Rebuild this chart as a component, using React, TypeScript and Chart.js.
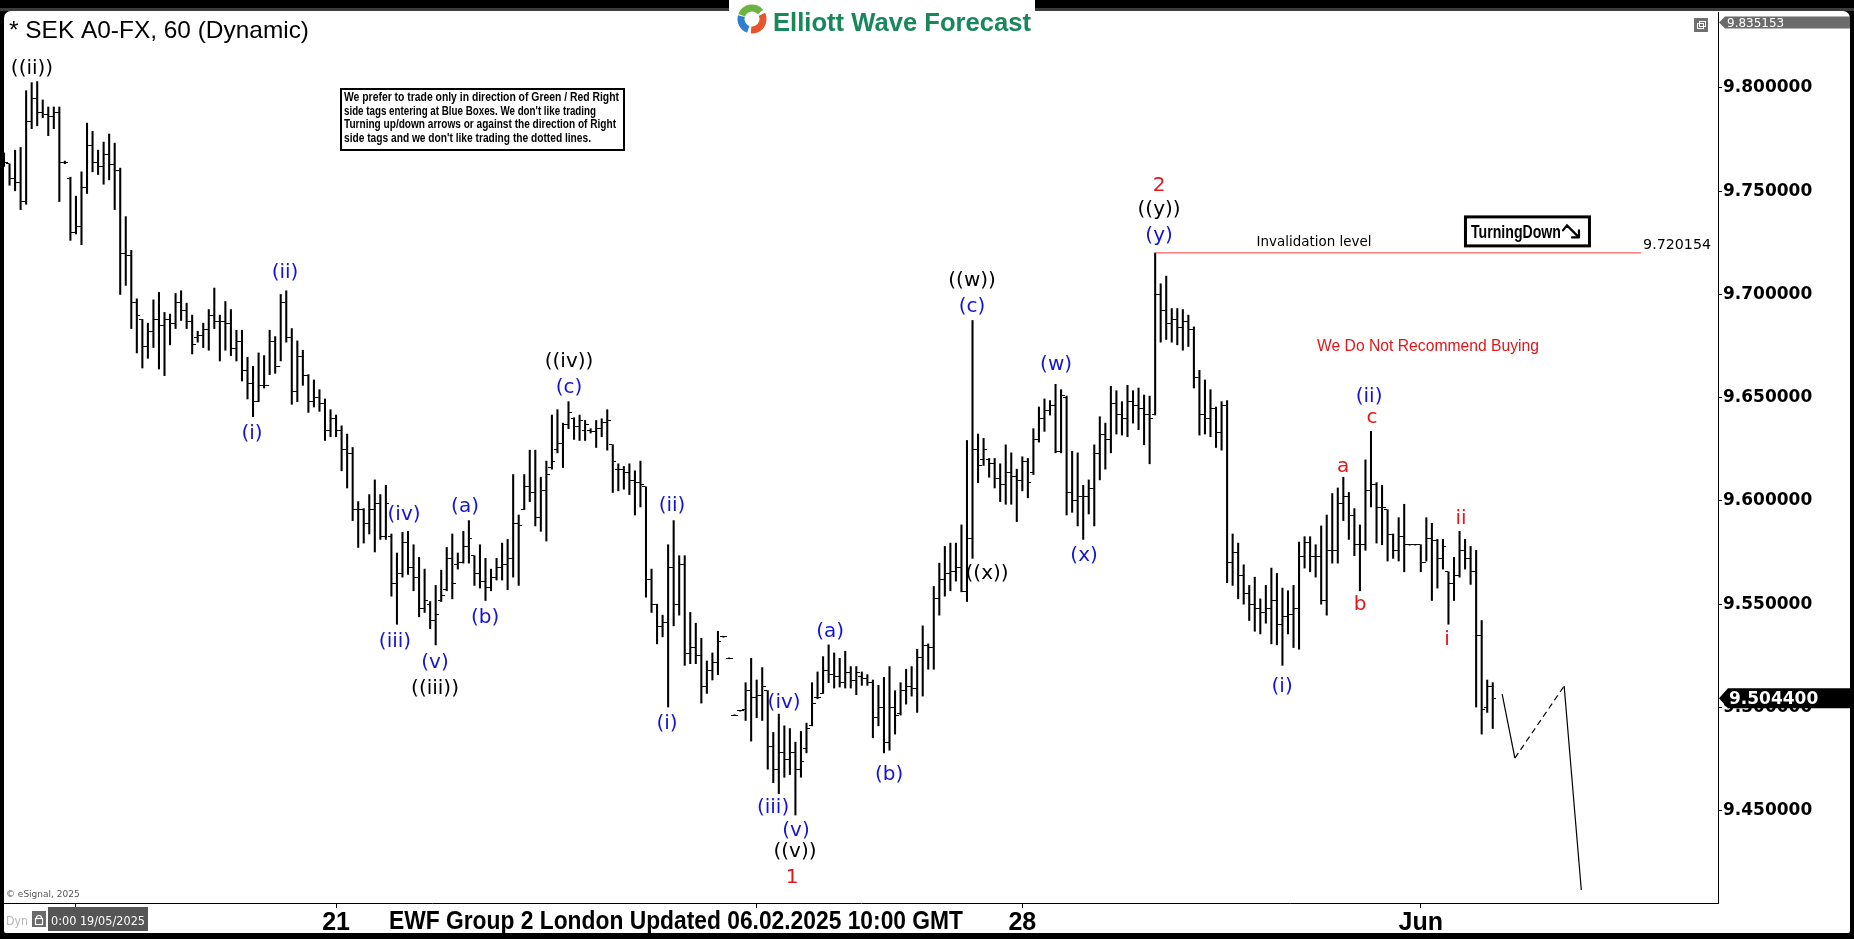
import React, { useEffect, useRef } from 'react';
import { Chart, registerables } from 'chart.js';

Chart.register(...registerables);

const W = 1854;
const H = 939;

// ---- hourly OHLC bars (index = hour bar) ----
const HIGH = [
  9.7686, 9.7633, 9.7699, 9.7712, 9.7987, 9.8026, 9.8031, 9.7942, 9.7908, 9.7908,
  9.7908, 9.7646, 9.7568, 9.7476, 9.7594, 9.7830, 9.7790, 9.7699, 9.7738, 9.7777,
  9.7733, 9.7612, 9.7377, 9.7214, 9.6979, 9.6879, 9.6861, 9.6974, 9.7010, 9.6913,
  9.6905, 9.7005, 9.7018, 9.6958, 9.6900, 9.6822, 9.6861, 9.6927, 9.7031, 9.6900,
  9.6966, 9.6927, 9.6827, 9.6827, 9.6696, 9.6652, 9.6717, 9.6704, 9.6827, 9.6796,
  9.7000, 9.7018, 9.6835, 9.6775, 9.6730, 9.6612, 9.6586, 9.6539, 9.6494, 9.6442,
  9.6416, 9.6364, 9.6324, 9.6259, 9.5997, 9.5963, 9.6031, 9.6102, 9.6031, 9.6076,
  9.5840, 9.5748, 9.5848, 9.5853, 9.5788, 9.5727, 9.5670, 9.5513, 9.5591, 9.5665,
  9.5775, 9.5840, 9.5748, 9.5853, 9.5905, 9.5735, 9.5788, 9.5722, 9.5670, 9.5722,
  9.5796, 9.5814, 9.6128, 9.5932, 9.6128, 9.6246, 9.6246, 9.6115, 9.6193, 9.6416,
  9.6442, 9.6377, 9.6481, 9.6403, 9.6416, 9.6390, 9.6350, 9.6390, 9.6398, 9.6442,
  9.6272, 9.6180, 9.6167, 9.6180, 9.6146, 9.6193, 9.6068, 9.5670, 9.5500, 9.5447,
  9.5788, 9.5905, 9.5735, 9.5735, 9.5460, 9.5408, 9.5335, 9.5225, 9.5264, 9.5369,
  9.5345, 9.5240, 9.4965, 9.4986, 9.5120, 9.5238, 9.5133, 9.5193, 9.5081, 9.4879,
  9.4968, 9.4911, 9.4898, 9.4832, 9.4884, 9.4924, 9.5120, 9.5172, 9.5246, 9.5303,
  9.5264, 9.5238, 9.5272, 9.5198, 9.5198, 9.5172, 9.5159, 9.5133, 9.5107, 9.5146,
  9.5198, 9.5081, 9.5120, 9.5185, 9.5198, 9.5282, 9.5395, 9.5308, 9.5586, 9.5699,
  9.5780, 9.5796, 9.5796, 9.5884, 9.6293, 9.6874, 9.6324, 9.6303, 9.6206, 9.6206,
  9.6180, 9.6272, 9.6233, 9.6154, 9.6214, 9.6206, 9.6350, 9.6455, 9.6494, 9.6486,
  9.6565, 9.6539, 9.6508, 9.6240, 9.6233, 9.6076, 9.6102, 9.6272, 9.6408, 9.6377,
  9.6555, 9.6534, 9.6481, 9.6560, 9.6534, 9.6547, 9.6513, 9.6508, 9.7201, 9.7052,
  9.7089, 9.6932, 9.6932, 9.6927, 9.6900, 9.6843, 9.6633, 9.6586, 9.6539, 9.6455,
  9.6481, 9.6486, 9.5840, 9.5796, 9.5691, 9.5591, 9.5631, 9.5526, 9.5591, 9.5675,
  9.5649, 9.5578, 9.5565, 9.5591, 9.5801, 9.5827, 9.5827, 9.5788, 9.5879, 9.5932,
  9.6036, 9.6063, 9.6115, 9.6041, 9.5963, 9.5884, 9.6199, 9.6337, 9.6089, 9.6076,
  9.5958, 9.5840, 9.5919, 9.5984, 9.5790, 9.5790, 9.5788, 9.5919, 9.5892, 9.5814,
  9.5814, 9.5657, 9.5727, 9.5853, 9.5814, 9.5780, 9.5761, 9.5421, 9.5133, 9.5120,
];

const LOW = [
  9.7620, 9.7529, 9.7502, 9.7411, 9.7437, 9.7803, 9.7817, 9.7856, 9.7769, 9.7803,
  9.7450, 9.7633, 9.7262, 9.7293, 9.7241, 9.7489, 9.7594, 9.7581, 9.7534, 9.7555,
  9.7411, 9.7000, 9.7044, 9.6835, 9.6717, 9.6644, 9.6691, 9.6743, 9.6639, 9.6607,
  9.6756, 9.6835, 9.6874, 9.6835, 9.6712, 9.6769, 9.6743, 9.6730, 9.6835, 9.6678,
  9.6730, 9.6704, 9.6678, 9.6581, 9.6494, 9.6408, 9.6481, 9.6547, 9.6612, 9.6618,
  9.6678, 9.6769, 9.6468, 9.6481, 9.6560, 9.6429, 9.6455, 9.6434, 9.6293, 9.6311,
  9.6311, 9.6146, 9.6063, 9.5905, 9.5775, 9.5796, 9.5840, 9.5753, 9.5814, 9.5814,
  9.5539, 9.5403, 9.5631, 9.5644, 9.5565, 9.5439, 9.5460, 9.5382, 9.5303, 9.5513,
  9.5565, 9.5526, 9.5670, 9.5699, 9.5699, 9.5591, 9.5578, 9.5518, 9.5565, 9.5617,
  9.5617, 9.5570, 9.5631, 9.5591, 9.5958, 9.5997, 9.5879, 9.5853, 9.5806, 9.6154,
  9.6233, 9.6162, 9.6350, 9.6298, 9.6293, 9.6293, 9.6329, 9.6259, 9.6311, 9.6246,
  9.6041, 9.6049, 9.6057, 9.6031, 9.5932, 9.5971, 9.5534, 9.5460, 9.5308, 9.5342,
  9.5002, 9.5395, 9.5447, 9.5204, 9.5212, 9.5212, 9.5021, 9.5068, 9.5133, 9.5159,
  9.5340, 9.5236, 9.4961, 9.4982, 9.4937, 9.4837, 9.4950, 9.4937, 9.4701, 9.4636,
  9.4583, 9.4662, 9.4675, 9.4479, 9.4662, 9.4780, 9.4911, 9.5042, 9.5068, 9.5120,
  9.5094, 9.5099, 9.5094, 9.5094, 9.5062, 9.5107, 9.5107, 9.4853, 9.4911, 9.4780,
  9.4793, 9.4871, 9.4963, 9.5016, 9.5055, 9.4976, 9.5055, 9.5185, 9.5185, 9.5447,
  9.5539, 9.5565, 9.5612, 9.5560, 9.5513, 9.5722, 9.6089, 9.6172, 9.6115, 9.6063,
  9.5997, 9.5984, 9.5984, 9.5900, 9.6049, 9.6015, 9.6128, 9.6285, 9.6337, 9.6416,
  9.6233, 9.6233, 9.5932, 9.5945, 9.5879, 9.5814, 9.5937, 9.5879, 9.6102, 9.6154,
  9.6233, 9.6324, 9.6319, 9.6311, 9.6377, 9.6345, 9.6272, 9.6180, 9.6416, 9.6769,
  9.6782, 9.6769, 9.6756, 9.6730, 9.6748, 9.6547, 9.6319, 9.6324, 9.6311, 9.6259,
  9.6246, 9.5604, 9.5591, 9.5526, 9.5500, 9.5421, 9.5369, 9.5356, 9.5408, 9.5308,
  9.5303, 9.5204, 9.5356, 9.5290, 9.5282, 9.5675, 9.5657, 9.5631, 9.5500, 9.5447,
  9.5699, 9.5699, 9.5905, 9.5814, 9.5735, 9.5565, 9.5761, 9.5971, 9.5796, 9.5788,
  9.5709, 9.5722, 9.5709, 9.5657, 9.5786, 9.5786, 9.5657, 9.5709, 9.5518, 9.5578,
  9.5670, 9.5403, 9.5518, 9.5631, 9.5670, 9.5596, 9.5002, 9.4871, 9.4976, 9.4898,
];

const OPEN = [
  9.7660, 9.7633, 9.7560, 9.7540, 9.7450, 9.7840, 9.7950, 9.7880, 9.7870, 9.7860,
  9.7880, 9.7640, 9.7560, 9.7300, 9.7330, 9.7520, 9.7720, 9.7640, 9.7620, 9.7680,
  9.7630, 9.7600, 9.7200, 9.7190, 9.6960, 9.6879, 9.6750, 9.6820, 9.6880, 9.6850,
  9.6880, 9.6860, 9.6960, 9.6920, 9.6870, 9.6790, 9.6800, 9.6830, 9.6900, 9.6870,
  9.6870, 9.6860, 9.6740, 9.6770, 9.6630, 9.6570, 9.6480, 9.6560, 9.6560, 9.6770,
  9.6650, 9.6960, 9.6790, 9.6530, 9.6700, 9.6610, 9.6480, 9.6500, 9.6470, 9.6340,
  9.6400, 9.6340, 9.6250, 9.6230, 9.5960, 9.5960, 9.5890, 9.5960, 9.5990, 9.5830,
  9.5830, 9.5600, 9.5650, 9.5800, 9.5680, 9.5630, 9.5480, 9.5500, 9.5420, 9.5520,
  9.5570, 9.5720, 9.5690, 9.5700, 9.5780, 9.5735, 9.5650, 9.5610, 9.5580, 9.5630,
  9.5680, 9.5690, 9.5720, 9.5890, 9.5960, 9.6070, 9.6040, 9.5920, 9.6050, 9.6160,
  9.6250, 9.6280, 9.6370, 9.6400, 9.6360, 9.6340, 9.6340, 9.6335, 9.6350, 9.6380,
  9.6272, 9.6150, 9.6150, 9.6140, 9.6100, 9.6090, 9.6068, 9.5620, 9.5500, 9.5390,
  9.5410, 9.5680, 9.5500, 9.5690, 9.5260, 9.5290, 9.5250, 9.5100, 9.5180, 9.5220,
  9.5342, 9.5238, 9.4963, 9.4984, 9.4990, 9.5080, 9.5050, 9.5060, 9.5081, 9.4810,
  9.4700, 9.4780, 9.4750, 9.4780, 9.4700, 9.4800, 9.4911, 9.5050, 9.5070, 9.5180,
  9.5160, 9.5150, 9.5120, 9.5170, 9.5130, 9.5150, 9.5140, 9.5120, 9.4950, 9.5000,
  9.4830, 9.5000, 9.4970, 9.5080, 9.5100, 9.5090, 9.5240, 9.5300, 9.5290, 9.5530,
  9.5620, 9.5650, 9.5660, 9.5680, 9.5560, 9.5820, 9.6250, 9.6200, 9.6200, 9.6180,
  9.6110, 9.6080, 9.6140, 9.6120, 9.6100, 9.6190, 9.6140, 9.6300, 9.6400, 9.6440,
  9.6460, 9.6240, 9.6500, 9.6040, 9.6000, 9.6020, 9.6020, 9.6060, 9.6230, 9.6320,
  9.6300, 9.6470, 9.6420, 9.6400, 9.6480, 9.6460, 9.6450, 9.6420, 9.6420, 9.7000,
  9.6920, 9.6860, 9.6880, 9.6840, 9.6870, 9.6830, 9.6600, 9.6420, 9.6400, 9.6450,
  9.6330, 9.6460, 9.5700, 9.5750, 9.5640, 9.5550, 9.5500, 9.5480, 9.5460, 9.5480,
  9.5520, 9.5400, 9.5440, 9.5450, 9.5480, 9.5730, 9.5800, 9.5730, 9.5730, 9.5520,
  9.5760, 9.5760, 9.5990, 9.6020, 9.5930, 9.5790, 9.5790, 9.6050, 9.6080, 9.5970,
  9.5958, 9.5840, 9.5760, 9.5830, 9.5788, 9.5788, 9.5788, 9.5700, 9.5820, 9.5810,
  9.5720, 9.5657, 9.5600, 9.5640, 9.5760, 9.5720, 9.5660, 9.5350, 9.5000, 9.5100,
];

const CLOSE = [
  9.7640, 9.7560, 9.7540, 9.7450, 9.7840, 9.7950, 9.7880, 9.7870, 9.7860, 9.7880,
  9.7640, 9.7640, 9.7300, 9.7330, 9.7520, 9.7720, 9.7640, 9.7620, 9.7680, 9.7630,
  9.7600, 9.7200, 9.7190, 9.6960, 9.6900, 9.6750, 9.6820, 9.6880, 9.6850, 9.6880,
  9.6860, 9.6960, 9.6920, 9.6870, 9.6760, 9.6800, 9.6830, 9.6900, 9.6870, 9.6870,
  9.6860, 9.6740, 9.6770, 9.6630, 9.6570, 9.6480, 9.6560, 9.6560, 9.6770, 9.6650,
  9.6960, 9.6790, 9.6530, 9.6700, 9.6610, 9.6480, 9.6500, 9.6470, 9.6340, 9.6400,
  9.6340, 9.6250, 9.6230, 9.5960, 9.5960, 9.5890, 9.5960, 9.5990, 9.5830, 9.5990,
  9.5600, 9.5650, 9.5800, 9.5680, 9.5630, 9.5480, 9.5520, 9.5420, 9.5450, 9.5540,
  9.5720, 9.5600, 9.5700, 9.5780, 9.5820, 9.5650, 9.5610, 9.5580, 9.5630, 9.5680,
  9.5690, 9.5720, 9.5890, 9.5880, 9.6070, 9.6040, 9.5920, 9.6050, 9.6130, 9.6190,
  9.6280, 9.6370, 9.6430, 9.6360, 9.6390, 9.6370, 9.6335, 9.6350, 9.6380, 9.6390,
  9.6190, 9.6150, 9.6140, 9.6100, 9.6090, 9.6080, 9.5620, 9.5500, 9.5390, 9.5410,
  9.5680, 9.5500, 9.5690, 9.5260, 9.5290, 9.5250, 9.5100, 9.5180, 9.5220, 9.5320,
  9.5343, 9.5238, 9.4963, 9.4984, 9.5080, 9.5050, 9.5060, 9.5100, 9.4810, 9.4700,
  9.4780, 9.4750, 9.4780, 9.4700, 9.4740, 9.4900, 9.5020, 9.5050, 9.5180, 9.5160,
  9.5150, 9.5120, 9.5170, 9.5130, 9.5170, 9.5140, 9.5120, 9.4950, 9.5000, 9.4830,
  9.5000, 9.4960, 9.5080, 9.5100, 9.5090, 9.5240, 9.5300, 9.5290, 9.5530, 9.5620,
  9.5650, 9.5660, 9.5680, 9.5560, 9.5820, 9.6250, 9.6170, 9.6250, 9.6180, 9.6110,
  9.6080, 9.6140, 9.6120, 9.6100, 9.6190, 9.6090, 9.6300, 9.6400, 9.6440, 9.6460,
  9.6240, 9.6510, 9.6040, 9.6000, 9.6020, 9.6020, 9.6060, 9.6230, 9.6320, 9.6300,
  9.6470, 9.6420, 9.6400, 9.6480, 9.6460, 9.6450, 9.6420, 9.6400, 9.7000, 9.6920,
  9.6860, 9.6880, 9.6840, 9.6870, 9.6830, 9.6600, 9.6420, 9.6400, 9.6450, 9.6330,
  9.6460, 9.5700, 9.5750, 9.5640, 9.5550, 9.5500, 9.5480, 9.5460, 9.5480, 9.5520,
  9.5400, 9.5440, 9.5450, 9.5480, 9.5730, 9.5800, 9.5730, 9.5730, 9.5520, 9.5760,
  9.5760, 9.5990, 9.6020, 9.5930, 9.5790, 9.5790, 9.6050, 9.6080, 9.5970, 9.5970,
  9.5840, 9.5760, 9.5830, 9.5790, 9.5788, 9.5788, 9.5700, 9.5820, 9.5810, 9.5720,
  9.5780, 9.5600, 9.5640, 9.5760, 9.5720, 9.5660, 9.5350, 9.4990, 9.5100, 9.5044,
];

// ---- axes ----
const X_TICKS = [13, 60, 136, 184, 256];
const X_TICK_LABELS = ['', '21', '', '28', 'Jun'];
const Y_TICKS = [9.45, 9.5, 9.55, 9.6, 9.65, 9.7, 9.75, 9.8];
const X_MIN = 0;
const X_MAX = 309.7;
const Y_MIN = 9.4053;
const Y_MAX = 9.8368;

// ---- levels / projection ----
const LAST_PRICE = 9.5044;
const SCREEN_HIGH = 9.835153;
const INVALIDATION = 9.720154;
const INVALIDATION_X = [208, 295.8];
const PROJ_X = [270.7, 273.0, 281.9, 285.0];
const PROJ_Y = [9.5065, 9.4755, 9.5104, 9.4116];

const BLUE = '#1414d4';
const RED = '#e3161b';
const BLACK = '#000000';

// wave labels: text, bar index, price, colour
const WAVE_LABELS: [string, number, number, string][] = [
  ['((ii))', 5.06, 9.8092, BLACK],
  ['(ii)', 50.78, 9.7107, BLUE],
  ['(i)', 44.81, 9.6325, BLUE],
  ['((iv))', 102.1, 9.6675, BLACK],
  ['(c)', 102.1, 9.6549, BLUE],
  ['(iv)', 72.28, 9.5932, BLUE],
  ['(a)', 83.3, 9.5971, BLUE],
  ['(iii)', 70.65, 9.5316, BLUE],
  ['(b)', 86.92, 9.5432, BLUE],
  ['(v)', 77.88, 9.5218, BLUE],
  ['((iii))', 77.88, 9.5092, BLACK],
  ['(ii)', 120.71, 9.5976, BLUE],
  ['(i)', 119.8, 9.4922, BLUE],
  ['(iv)', 140.95, 9.5024, BLUE],
  ['(iii)', 138.96, 9.4515, BLUE],
  ['(v)', 143.11, 9.4403, BLUE],
  ['((v))', 142.93, 9.4301, BLACK],
  ['1', 142.39, 9.4175, RED],
  ['(a)', 149.26, 9.5364, BLUE],
  ['(b)', 159.92, 9.4675, BLUE],
  ['((w))', 174.92, 9.7068, BLACK],
  ['(c)', 174.92, 9.6942, BLUE],
  ['((x))', 177.63, 9.5646, BLACK],
  ['(w)', 190.1, 9.666, BLUE],
  ['(x)', 195.16, 9.5733, BLUE],
  ['2', 208.71, 9.7524, RED],
  ['((y))', 208.71, 9.7408, BLACK],
  ['(y)', 208.71, 9.7286, BLUE],
  ['(ii)', 246.66, 9.6505, BLUE],
  ['c', 247.2, 9.6403, RED],
  ['a', 241.96, 9.6165, RED],
  ['b', 245.03, 9.5495, RED],
  ['(i)', 230.94, 9.5102, BLUE],
  ['ii', 263.28, 9.5913, RED],
  ['i', 260.75, 9.533, RED],
];

const RULE_LINES = [
  "We prefer to trade only in direction of Green / Red Right",
  "side tags entering at Blue Boxes. We don't like trading",
  "Turning up/down arrows or against the direction of Right",
  "side tags and we don't like trading the dotted lines.",
];
const RULE_WIDTHS = [275, 252, 272, 247];

function fitText(ctx: CanvasRenderingContext2D, text: string, x: number, y: number, width: number, align: 'left' | 'center' = 'left') {
  const w = ctx.measureText(text).width;
  const s = Math.min(width / w, 1.6);
  const realW = w * s;
  ctx.save();
  const x0 = align === 'center' ? x - realW / 2 : x;
  ctx.translate(x0, y);
  ctx.scale(s, 1);
  ctx.textAlign = 'left';
  ctx.fillText(text, 0, 0);
  ctx.restore();
}

function tickImage(side: 'left' | 'right') {
  const c = document.createElement('canvas');
  c.width = 7;
  c.height = 1;
  const g = c.getContext('2d')!;
  g.fillStyle = '#000';
  if (side === 'left') g.fillRect(0, 0, 3, 1);
  else g.fillRect(4, 0, 3, 1);
  return c;
}

const framePlugin = {
  id: 'frame',
  beforeDraw(chart: any) {
    const ctx = chart.ctx as CanvasRenderingContext2D;
    ctx.save();
    ctx.fillStyle = '#000';
    ctx.fillRect(0, 0, W, H);
    ctx.fillStyle = '#3c3c3c';
    ctx.fillRect(0, 8, W, 3);
    ctx.fillStyle = '#fff';
    ctx.beginPath();
    (ctx as any).roundRect(4, 11, 1846, 922, [7, 7, 2, 2]);
    ctx.fill();
    ctx.restore();
  },
  afterDatasetsDraw(chart: any) {
    const ctx = chart.ctx as CanvasRenderingContext2D;
    const xs = chart.scales.x;
    const ys = chart.scales.y;
    ctx.save();
    // wave labels
    ctx.textBaseline = 'middle';
    ctx.textAlign = 'center';
    ctx.font = '20px "DejaVu Sans"';
    for (const [t, i, p, c] of WAVE_LABELS) {
      ctx.fillStyle = c;
      ctx.fillText(t, xs.getPixelForValue(i), ys.getPixelForValue(p));
    }
    // invalidation texts
    ctx.fillStyle = '#000';
    ctx.font = '14px "DejaVu Sans"';
    fitText(ctx, 'Invalidation level', xs.getPixelForValue(236.7), ys.getPixelForValue(9.7252), 115, 'center');
    ctx.font = '14px "DejaVu Sans"';
    fitText(ctx, INVALIDATION.toFixed(6), xs.getPixelForValue(INVALIDATION_X[1]) + 2, ys.getPixelForValue(9.7238), 68, 'left');

    // Turning Down box
    const bx = xs.getPixelForValue(263.8);
    const by = ys.getPixelForValue(9.7383);
    const bw = 127;
    const bh = 32;
    ctx.fillStyle = '#fff';
    ctx.fillRect(bx, by, bw, bh);
    ctx.strokeStyle = '#000';
    ctx.lineWidth = 3;
    ctx.strokeRect(bx + 1.5, by + 1.5, bw - 3, bh - 3);
    ctx.fillStyle = '#000';
    ctx.font = 'bold 19px "Liberation Sans"';
    fitText(ctx, 'TurningDown', bx + 7, by + bh / 2 + 1, 90, 'left');
    // arrow icon
    const ax = bx + 99;
    const ay = by + bh / 2;
    ctx.lineWidth = 2.2;
    ctx.lineCap = 'round';
    ctx.beginPath();
    ctx.moveTo(ax, ay - 1);
    ctx.lineTo(ax + 4, ay - 6);
    ctx.lineTo(ax + 16, ay + 6);
    ctx.moveTo(ax + 16, ay + 6);
    ctx.lineTo(ax + 16, ay - 1);
    ctx.moveTo(ax + 16, ay + 6);
    ctx.lineTo(ax + 9, ay + 6);
    ctx.stroke();

    // recommendation
    ctx.fillStyle = RED;
    ctx.font = '17px "Liberation Sans"';
    fitText(ctx, 'We Do Not Recommend Buying', xs.getPixelForValue(257.3), ys.getPixelForValue(9.6748), 222, 'center');

    // rules box
    ctx.fillStyle = '#fff';
    ctx.fillRect(340, 88, 285, 63);
    ctx.strokeStyle = '#000';
    ctx.lineWidth = 2;
    ctx.strokeRect(341, 89, 283, 61);
    ctx.fillStyle = '#000';
    ctx.font = 'bold 12px "Liberation Sans"';
    const lineY = [98, 111.5, 125, 138.5];
    RULE_LINES.forEach((l, k) => fitText(ctx, l, 344, lineY[k], RULE_WIDTHS[k], 'left'));

    // eSignal copyright
    ctx.fillStyle = '#555';
    ctx.font = '9px "DejaVu Sans"';
    ctx.textAlign = 'left';
    ctx.fillText('\u00A9 eSignal, 2025', 6, 895);
    ctx.restore();
  },
  afterDraw(chart: any) {
    const ctx = chart.ctx as CanvasRenderingContext2D;
    const ys = chart.scales.y;
    const area = chart.chartArea;
    ctx.save();
    // last price tag
    const ly = ys.getPixelForValue(LAST_PRICE);
    const tx = area.right + 1;
    ctx.fillStyle = '#000';
    ctx.beginPath();
    ctx.moveTo(tx, ly);
    ctx.lineTo(tx + 9, ly - 10);
    ctx.lineTo(1850, ly - 10);
    ctx.lineTo(1850, ly + 10);
    ctx.lineTo(tx + 9, ly + 10);
    ctx.closePath();
    ctx.fill();
    ctx.fillStyle = '#fff';
    ctx.font = 'bold 17px "DejaVu Sans"';
    ctx.textBaseline = 'middle';
    ctx.textAlign = 'left';
    ctx.fillText(LAST_PRICE.toFixed(6), tx + 10, ly + 1);

    // screen high tag
    const hy = ys.getPixelForValue(SCREEN_HIGH) + 7;
    ctx.fillStyle = '#6b6b6b';
    ctx.beginPath();
    ctx.moveTo(tx, hy);
    ctx.lineTo(tx + 6, hy - 6);
    ctx.lineTo(1850, hy - 6);
    ctx.lineTo(1850, hy + 6);
    ctx.lineTo(tx + 6, hy + 6);
    ctx.closePath();
    ctx.fill();
    ctx.fillStyle = '#fff';
    ctx.font = '12px "DejaVu Sans"';
    ctx.fillText(SCREEN_HIGH.toFixed(6), tx + 8, hy + 1);

    // window icon
    ctx.fillStyle = '#707070';
    ctx.fillRect(1694, 18, 14, 14);
    ctx.strokeStyle = '#fff';
    ctx.lineWidth = 1;
    ctx.strokeRect(1697.5, 23.5, 6, 5);
    ctx.strokeRect(1699.5, 21.5, 6, 5);

    // title
    ctx.fillStyle = '#000';
    ctx.textBaseline = 'alphabetic';
    ctx.font = '24px "Liberation Sans"';
    fitText(ctx, '* SEK A0-FX, 60 (Dynamic)', 9, 38, 300, 'left');

    // logo
    ctx.fillStyle = '#fff';
    ctx.fillRect(729, 0, 306, 38);
    const cx = 752;
    const cy = 19;
    ctx.lineWidth = 7;
    ctx.lineCap = 'butt';
    const arc = (a0: number, a1: number, col: string) => {
      ctx.strokeStyle = col;
      ctx.beginPath();
      ctx.arc(cx, cy, 11, (a0 * Math.PI) / 180, (a1 * Math.PI) / 180);
      ctx.stroke();
    };
    arc(-160, -40, '#6cb33f');
    arc(-25, 95, '#e8542c');
    arc(110, 195, '#2f7fd0');
    ctx.fillStyle = '#18875a';
    ctx.font = 'bold 26px "Liberation Sans"';
    fitText(ctx, 'Elliott Wave Forecast', 773, 31, 258, 'left');

    // bottom overlay text
    ctx.fillStyle = '#000';
    ctx.font = 'bold 26px "Liberation Sans"';
    fitText(ctx, 'EWF Group 2 London Updated 06.02.2025 10:00 GMT', 389, 929, 574, 'left');

    // bottom-left status
    ctx.fillStyle = '#b5b5b5';
    ctx.font = '12px "DejaVu Sans"';
    fitText(ctx, 'Dyn', 6, 925, 22, 'left');
    ctx.fillStyle = '#6a6a6a';
    ctx.fillRect(32, 911, 14, 16);
    ctx.strokeStyle = '#fff';
    ctx.lineWidth = 1.2;
    ctx.strokeRect(35.5, 918.5, 7, 6);
    ctx.beginPath();
    ctx.arc(39, 918, 2.5, Math.PI, 0);
    ctx.stroke();
    ctx.fillStyle = '#555';
    ctx.fillRect(48, 907, 100, 24);
    ctx.fillStyle = '#fff';
    ctx.font = '13px "DejaVu Sans"';
    fitText(ctx, '0:00 19/05/2025', 51, 925, 94, 'left');
    ctx.restore();
  },
};

export default function App() {
  const ref = useRef<HTMLCanvasElement | null>(null);
  useEffect(() => {
    document.body.style.margin = '0';
    const canvas = ref.current!;
    const openImg = tickImage('left');
    const closeImg = tickImage('right');
    const idx = HIGH.map((_, i) => i);
    const chart = new Chart(canvas, {
      type: 'bar',
      data: {
        datasets: [
          {
            type: 'bar',
            data: idx.map((i) => ({ x: i, y: [LOW[i], HIGH[i]] })) as any,
            backgroundColor: '#000',
            borderWidth: 0,
            barThickness: 1.4,
            order: 3,
          } as any,
          {
            type: 'line',
            data: idx.map((i) => ({ x: i, y: OPEN[i] })),
            showLine: false,
            pointStyle: openImg,
            pointRadius: 1,
            pointHoverRadius: 1,
            order: 2,
          } as any,
          {
            type: 'line',
            data: idx.map((i) => ({ x: i, y: CLOSE[i] })),
            showLine: false,
            pointStyle: closeImg,
            pointRadius: 1,
            pointHoverRadius: 1,
            order: 2,
          } as any,
          {
            type: 'line',
            data: INVALIDATION_X.map((x) => ({ x, y: INVALIDATION })),
            borderColor: '#ff3b3b',
            borderWidth: 1,
            pointRadius: 0,
            order: 1,
          } as any,
          {
            type: 'line',
            data: PROJ_X.map((x, k) => ({ x, y: PROJ_Y[k] })),
            borderColor: '#000',
            borderWidth: 1.2,
            pointRadius: 0,
            segment: {
              borderDash: (c: any) => (c.p0DataIndex === 1 ? [6, 4] : []),
            },
            order: 1,
          } as any,
        ],
      },
      options: {
        responsive: false,
        devicePixelRatio: 1,
        animation: false,
        events: [],
        layout: { padding: { left: 4, right: 4, top: 12, bottom: 6 } },
        plugins: { legend: { display: false }, tooltip: { enabled: false }, title: { display: false } },
        scales: {
          x: {
            type: 'linear',
            min: X_MIN,
            max: X_MAX,
            offset: false,
            grid: { display: true, drawOnChartArea: false, drawTicks: true, tickLength: 5, color: '#000', offset: false },
            border: { display: true, color: '#000', width: 1 },
            ticks: {
              autoSkip: false,
              maxRotation: 0,
              minRotation: 0,
              padding: 0,
              color: '#000',
              font: { family: '"Liberation Sans Narrow", "Arial Narrow", "Liberation Sans", Arial', weight: 'bold', size: 25 },
              callback: (_v: any, i: number) => X_TICK_LABELS[i] ?? '',
            },
            afterBuildTicks: (axis: any) => {
              axis.ticks = X_TICKS.map((v) => ({ value: v }));
            },
            afterFit: (axis: any) => {
              axis.height = 30;
            },
          },
          y: {
            type: 'linear',
            position: 'right',
            min: Y_MIN,
            max: Y_MAX,
            beginAtZero: false,
            grid: { display: true, drawOnChartArea: false, drawTicks: true, tickLength: 4, color: '#000' },
            border: { display: true, color: '#000', width: 1 },
            ticks: {
              padding: 1,
              color: '#000',
              font: { family: '"DejaVu Sans"', weight: 'bold', size: 17 },
              callback: (v: any) => Number(v).toFixed(6),
            },
            afterBuildTicks: (axis: any) => {
              axis.ticks = Y_TICKS.map((v) => ({ value: v }));
            },
            afterFit: (axis: any) => {
              axis.width = 132;
            },
          },
        },
      } as any,
      plugins: [framePlugin],
    });
    return () => chart.destroy();
  }, []);
  return <canvas ref={ref} width={W} height={H} style={{ display: 'block', width: W, height: H }} />;
}
